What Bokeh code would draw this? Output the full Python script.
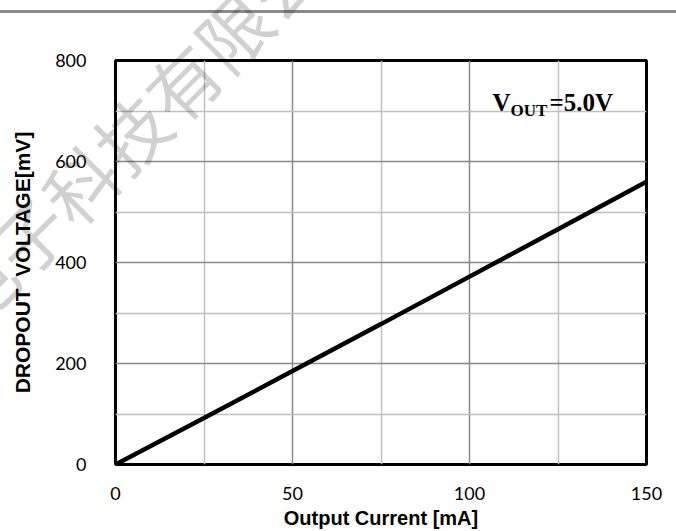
import numpy as np
from bokeh.plotting import figure
from bokeh.models import FixedTicker, Label, Range1d, Div
from bokeh.layouts import column
from bokeh.embed import file_html
from bokeh.resources import INLINE

# ---- data ----
current_mA = [0, 25, 50, 75, 100, 125, 150]
dropout_mV = [0, 92, 185, 278, 372, 466, 560]

x_major = [0, 50, 100, 150]
x_minor = [25, 75, 125]
y_major = [0, 200, 400, 600, 800]
y_minor = [100, 300, 500, 700]

watermark = "电子科技有限公司"

p = figure(width=676, height=531, output_backend="svg", toolbar_location=None,
           x_range=Range1d(0, 150), y_range=Range1d(0, 800),
           min_border_left=115, min_border_right=30,
           min_border_top=60, min_border_bottom=67)

p.background_fill_color = "white"
p.border_fill_color = None
# thin gray rule across the top of the page
p.styles = {"background": "linear-gradient(to bottom, white 0px, white 10px, "
                          "#8a8a8a 10px, #8a8a8a 13px, white 13px, white 100%)"}
p.outline_line_color = "black"
p.outline_line_width = 3

p.xaxis.ticker = FixedTicker(ticks=x_major, minor_ticks=x_minor)
p.yaxis.ticker = FixedTicker(ticks=y_major, minor_ticks=y_minor)

for ax in (p.xaxis, p.yaxis):
    ax.axis_line_color = None
    ax.major_tick_line_color = None
    ax.minor_tick_line_color = None
    ax.major_label_text_font = "Lato"
    ax.major_label_text_font_size = "18px"
    ax.major_label_text_color = "black"
    ax.axis_label_text_font = "Liberation Sans"
    ax.axis_label_text_font_style = "bold"
    ax.axis_label_text_color = "black"

p.xaxis.axis_label = "Output Current [mA]"
p.yaxis.axis_label = "DROPOUT\u00a0 VOLTAGE[mV]"
p.xaxis.axis_label_text_font_size = "20px"
p.yaxis.axis_label_text_font_size = "21px"
p.xaxis.major_label_standoff = 16
p.xaxis.axis_label_standoff = 4
p.yaxis.major_label_standoff = 23
p.yaxis.axis_label_standoff = 18

p.xgrid.grid_line_color = "#8a8a8a"
p.xgrid.grid_line_width = 1.5
p.xgrid.minor_grid_line_color = "#c0c0c0"
p.xgrid.minor_grid_line_width = 1.5
p.ygrid.grid_line_color = "#8a8a8a"
p.ygrid.grid_line_width = 1.5
p.ygrid.minor_grid_line_color = "#c0c0c0"
p.ygrid.minor_grid_line_width = 1.5

p.line(current_mA, dropout_mV, line_color="black", line_width=4.5)

# V_OUT annotation
serif = "Liberation Serif"
p.add_layout(Label(x=106.5, y=717, text="V", text_font=serif, text_font_style="bold",
                   text_font_size="25px", text_baseline="alphabetic", text_color="black"))
p.add_layout(Label(x=111.6, y=701, text="OUT", text_font=serif, text_font_style="bold",
                   text_font_size="17px", text_baseline="alphabetic", text_color="black"))
p.add_layout(Label(x=122.6, y=717, text="=5.0V", text_font=serif, text_font_style="bold",
                   text_font_size="25px", text_baseline="alphabetic", text_color="black"))

# watermark overlay (semi-transparent, spills over the whole chart)
wm_html = ('<div style="position:absolute; left:156px; top:107px; '
           'transform:translate(-50%,-50%) rotate(-45deg); white-space:nowrap; '
           "font-family:'Noto Sans CJK SC'; font-size:72px; line-height:1; "
           'color:rgba(0,0,0,0.18); pointer-events:none;">' + watermark + '</div>')
wm = Div(text=wm_html, width=676, height=0, margin=0,
         styles={"z-index": "10", "overflow": "visible", "pointer-events": "none",
                 "position": "relative"})

layout = column(wm, p, spacing=0)

open("out.html", "w").write(file_html(layout, INLINE))
